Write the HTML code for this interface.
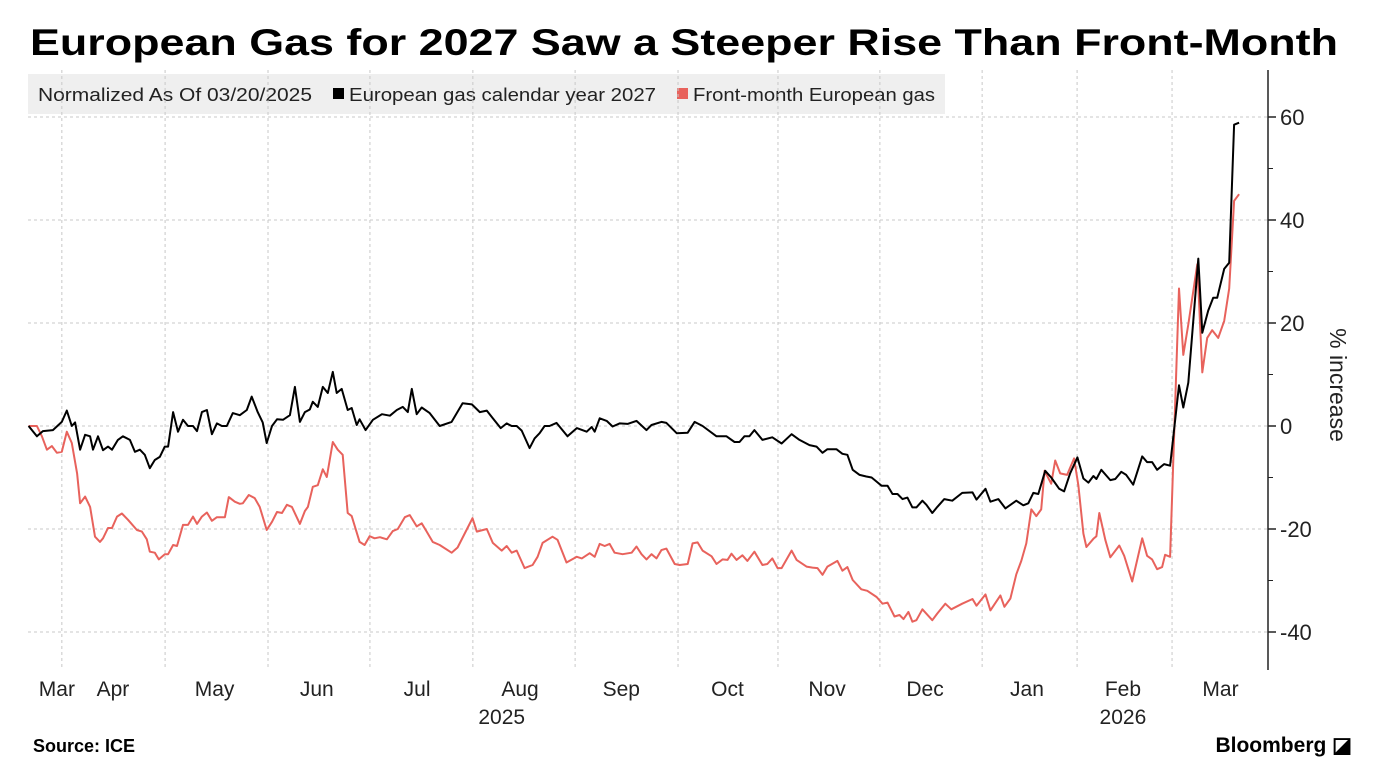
<!DOCTYPE html>
<html><head><meta charset="utf-8"><style>
body{margin:0;background:#fff;width:1382px;height:766px;overflow:hidden;font-family:"Liberation Sans",sans-serif;}
</style></head><body>
<svg id="chart" width="1382" height="766" xmlns="http://www.w3.org/2000/svg" font-family="Liberation Sans, sans-serif">
<text x="30" y="55" font-size="37" font-weight="bold" fill="#000" textLength="1308" lengthAdjust="spacingAndGlyphs">European Gas for 2027 Saw a Steeper Rise Than Front-Month</text>
<g>
<rect x="28" y="74" width="917" height="40" fill="#efefef"/>
<text x="38" y="101" font-size="18" fill="#222" textLength="274" lengthAdjust="spacingAndGlyphs">Normalized As Of 03/20/2025</text>
<rect x="333" y="88" width="11" height="11" fill="#000"/>
<text x="349" y="101" font-size="18" fill="#222" textLength="307" lengthAdjust="spacingAndGlyphs">European gas calendar year 2027</text>
<rect x="677" y="88" width="11" height="11" fill="#e8625c"/>
<text x="693" y="101" font-size="18" fill="#222" textLength="242" lengthAdjust="spacingAndGlyphs">Front-month European gas</text>
</g>
<g id="grid"></g>
<g id="series"></g>
<g id="axes"></g>
<text transform="translate(1330,385) rotate(90)" text-anchor="middle" font-size="23" fill="#222">% increase</text>
<text x="33" y="752" font-size="18" font-weight="bold" fill="#000">Source: ICE</text>
<text x="1352" y="752" text-anchor="end" font-size="21" font-weight="bold" fill="#000">Bloomberg ◪</text>
</svg>
<script>
const monthTickDays=[12,43.1,74.1,104.8,135.8,166.6,197.6,227.7,258.4,289.2,317.8,346.4];
const monthLabels=["Mar","Apr","May","Jun","Jul","Aug","Sep","Oct","Nov","Dec","Jan","Feb","Mar"];
const monthLabelDays=[10.5,27.4,58,88.8,119,150,180.5,212.5,242.5,272,302.7,331.6,361];
const yearLabels=["2025","2026"];
const yearLabelDays=[144.5,331.6];
const yTicks=[60,40,20,0,-20,-40];
const yMinorTicks=[50,30,10,-10,-30];
const cal27Days=[2,4.5,6.3,9.3,12,13.5,15,16,17.5,19,20.5,21.4,22.9,24.4,25.9,27.1,28.9,30.4,32.5,34,35.5,37,38.5,40,41.5,43,44,45.5,47,48.5,50,51.5,52.7,54.2,55.7,57.2,58.7,60.2,61.7,63.5,65.6,67.7,69.2,71,72.5,73.7,75.3,76.8,78.6,80.7,82.2,83.7,85.2,86.7,87.6,89.1,90.6,92.1,93.6,94.8,96.3,98.1,99.3,100.8,101.7,103.5,105.7,108.4,110.8,112.9,114.7,116.2,117.4,118.9,120.4,122.8,125.8,129.4,132.7,135.5,137.9,140,141.8,144.2,146,147.5,149,150.5,152.9,154.4,155.9,157.4,158.9,161,164.3,167.1,170.1,171.6,172.5,174,176.1,177.9,180,182.4,185.1,188.1,189.6,192.6,194.1,197.2,200.5,202.6,205,209.2,212.2,214.6,216.1,217.6,219.1,220.6,223,226,228.8,231.8,234.2,237.2,239.3,241.1,242.6,245.3,247.1,248.6,250.2,252.3,254.3,255.9,257.4,258.9,260.7,262.2,263.7,265.2,266.7,268.2,269.4,271.2,272.4,274.2,275.7,277.8,280.2,283.2,286.3,287.5,290.2,291.7,294.1,296.2,299.5,301.6,303.1,304.6,306.1,308.2,310,312.4,313.9,315.7,317.9,319.7,321.2,322.7,323.6,325.1,327.8,329.3,331.1,332.6,334.7,337.4,338.9,340.4,341.9,344,345.8,348.5,349.8,351.3,354.3,355.5,357.3,358.8,360,362.1,363.6,365.1,366.6];
const cal27Values=[0,-2,-1,-0.8,0.8,3,0,0.7,-4.6,-1.7,-2,-4.6,-2,-4.7,-4,-4.6,-2.7,-2,-2.7,-5,-4.6,-5.6,-8.2,-6.6,-6,-4,-4,2.7,-1.1,1.2,0,0,-1,2.7,3.1,-1.6,0.5,0,0,2.5,2.1,3.1,5.7,2.7,0.7,-3.3,0,1.3,1.2,2.1,7.6,0.8,2.7,3.2,4.7,3.7,7.6,6.4,10.5,6.4,7.2,3.1,3.5,0.2,1.3,-0.8,1.2,2.3,2,3.1,3.7,2.7,7.2,2.3,3.6,2.5,0,0.8,4.4,4.2,2.7,3,1.5,-0.4,0.5,0,0,-0.9,-4.3,-2.4,-1.4,0,0,0.6,-2,-0.4,-1.1,-0.2,-1.1,1.5,1,-0.1,0.5,0.4,1,-0.8,0.2,0.8,0.6,-1.4,-1.3,0.8,0,-2,-2,-3.1,-3.1,-2,-2,-0.8,-2.7,-2.2,-3.4,-1.6,-2.7,-3.7,-4,-5.2,-4.5,-4.5,-5.4,-5.6,-8.5,-9.5,-9.8,-10,-10.8,-11.6,-11.6,-13.2,-13.2,-14.2,-13.9,-15.8,-15.8,-14.5,-15.3,-16.9,-15.7,-14.2,-14.5,-13,-12.9,-14.3,-12.2,-14.7,-14.2,-16,-14.5,-15.4,-15,-13,-13.2,-8.7,-10,-12.2,-12.7,-9.2,-6.1,-10.2,-11,-9.7,-10.3,-8.5,-10.5,-10.3,-8.9,-9.5,-11.4,-5.9,-7,-7,-8.5,-7.4,-7.7,7.9,3.6,8.4,32.5,18.1,22.4,24.9,24.9,30.5,31.7,58.5,58.9];
const frontDays=[2,4.5,6,7.5,9,10.5,12,13.5,15,16.6,17.5,19,20.5,22,23.5,24.4,25.9,27.1,28.6,30.1,31.9,34.6,36.1,37.6,38.5,40,41.2,43,44,45.5,46.7,48.5,50,51.5,52.7,54.2,55.7,57.2,58.7,61.1,62.3,64.1,65.6,66.5,68.3,70.1,71.6,73.7,75.3,76.8,78.3,79.8,81.3,83.7,85.2,86.1,87.6,89.1,90.6,91.8,93.6,95.1,96.6,98.1,99.3,101.7,103.2,104.7,106.2,107.8,109.9,111.7,113.2,115.3,116.8,118.9,120.4,121.9,123.7,125.8,129.4,131.2,133.9,135.7,137,140,141.8,144.5,146,147.5,149,151.4,153.8,155.3,156.8,159.8,161.3,164,167.1,168.6,171,172.5,174,175.5,177,178.5,180.9,183.6,185.1,186.6,188.1,189.6,191.1,192.6,194.1,196.6,198.1,200.5,202,203.5,205,207.7,209.2,211,212.5,213.7,215.2,217,218.5,220.6,223,224.5,226,227.6,228.8,231.8,233.3,236.3,238.1,239.6,241.1,242.6,245.6,247.1,248.6,250.2,252.8,254.6,257.4,259.2,260.7,262.8,264.3,265.5,267,268.2,269.4,271.2,274.2,275.7,278.1,279.9,283.2,286.3,287.5,290.2,291.7,294.7,295.9,297.7,299.5,301,302.5,304,305.5,307,308,310,311.2,312.7,314.8,316.9,318.2,319.7,320.6,322.7,323.6,324.5,326.3,327.8,330.5,332,334.4,337.4,338.9,340.4,341.9,343.4,344.3,345.8,348.5,349.8,351.3,354,355.5,357,358.5,360.3,362.1,363.6,365.1,366.6];
const frontValues=[0,0,-2,-4.6,-3.9,-5.2,-5,-1.1,-3.3,-9.2,-15,-13.7,-15.7,-21.5,-22.5,-21.8,-19.8,-19.8,-17.6,-17,-18.2,-20.2,-20.5,-22,-24.4,-24.6,-25.9,-24.9,-24.9,-23.1,-23.3,-19.2,-19.2,-17.6,-19,-17.6,-16.8,-18.4,-17.7,-17.7,-13.8,-14.7,-15.1,-15,-13.4,-14,-15.7,-20.2,-18.6,-16.7,-16.9,-15.3,-15.7,-19,-16.5,-15.7,-11.8,-11.5,-8.4,-9.9,-3.1,-4.6,-5.6,-16.9,-17.5,-22.5,-23.1,-21.4,-21.8,-21.6,-22,-20.4,-20,-17.7,-17.3,-19.5,-18.9,-20.5,-22.5,-23.1,-24.6,-23.6,-20.2,-17.9,-20.5,-20,-22.7,-24.2,-23.3,-24.6,-24.2,-27.6,-27,-25.4,-22.7,-21.5,-22.1,-26.5,-25.4,-25.7,-24.7,-25.4,-22.9,-23.3,-22.9,-24.6,-24.9,-24.6,-23.4,-24.9,-25.9,-24.9,-25.7,-24.1,-23.8,-26.8,-27,-26.8,-22.8,-22.6,-24.2,-25.3,-26.8,-25.9,-26,-24.8,-26,-25.1,-26.2,-24.4,-27,-26.8,-25.7,-27.6,-27.6,-24.2,-26,-27.3,-27.5,-27.6,-28.9,-27.3,-26.2,-28.1,-27.4,-29.9,-31.7,-32,-33.2,-34.5,-34.3,-37,-36.7,-37.5,-36.1,-38,-37.7,-35.6,-37.7,-36.4,-34.5,-35.6,-34.5,-33.6,-34.9,-32.7,-35.8,-32.9,-35.1,-33.5,-28.8,-26.2,-22.8,-16.2,-17.5,-16.2,-8.7,-11.2,-6.7,-9.2,-9.5,-6.3,-11.6,-20.9,-23.5,-21.9,-21.4,-16.9,-22.1,-25.5,-23.2,-25.2,-30.2,-21.8,-25.2,-25.9,-27.8,-27.4,-25,-25.4,26.7,13.8,19.7,31.4,10.4,17.1,18.6,17.1,20.4,26.7,43.7,45];

const NS="http://www.w3.org/2000/svg";
const X0=22,PX_PER_DAY=3.32,Y_ZERO=426,PX_PER_UNIT=5.15;
const PLOT_L=28,PLOT_R=1268,PLOT_T=70,PLOT_B=670;
function xScale(d){return X0+d*PX_PER_DAY;}
function yScale(v){return Y_ZERO-v*PX_PER_UNIT;}
function mk(tag,attrs,parent){const e=document.createElementNS(NS,tag);for(const k in attrs)e.setAttribute(k,attrs[k]);parent.appendChild(e);return e;}
const grid=document.getElementById('grid'),axes=document.getElementById('axes'),series=document.getElementById('series');
yTicks.forEach(v=>{
  const l=mk('line',{x1:PLOT_L,x2:PLOT_R,y1:yScale(v),y2:yScale(v),stroke:'#c8c8c8','stroke-width':1,'stroke-dasharray':'3,3'},grid);
  
  
  const t=mk('line',{x1:PLOT_R,x2:PLOT_R+8,y1:yScale(v),y2:yScale(v),stroke:'#222','stroke-width':1.5},axes);
  
  
  const tx=mk('text',{x:PLOT_R+12,y:yScale(v)+8,'font-size':22,fill:'#222'},axes);
  tx.textContent=v<0?'-'+Math.abs(v):String(v);
  
  
});
yMinorTicks.forEach(v=>{
  const t=mk('line',{x1:PLOT_R,x2:PLOT_R+5,y1:yScale(v),y2:yScale(v),stroke:'#222','stroke-width':1},axes);
  
  
});
monthTickDays.forEach(d=>{
  const l=mk('line',{x1:xScale(d),x2:xScale(d),y1:PLOT_T,y2:PLOT_B,stroke:'#c8c8c8','stroke-width':1,'stroke-dasharray':'3,3'},grid);
  
  
});
monthLabels.forEach((m,i)=>{
  const t=mk('text',{x:xScale(monthLabelDays[i]),y:696,'font-size':21,fill:'#222','text-anchor':'middle'},axes);
  t.textContent=m;
  
  
});
yearLabels.forEach((m,i)=>{
  const t=mk('text',{x:xScale(yearLabelDays[i]),y:724,'font-size':21,fill:'#222','text-anchor':'middle'},axes);
  t.textContent=m;
  
  
});
const ax=mk('line',{x1:PLOT_R,x2:PLOT_R,y1:PLOT_T,y2:PLOT_B,stroke:'#222','stroke-width':1.5},axes);


function drawLine(days,vals,color,name){
  const pts=days.map((d,i)=>xScale(d).toFixed(1)+','+yScale(vals[i]).toFixed(1)).join(' ');
  const p=mk('polyline',{points:pts,fill:'none',stroke:color,'stroke-width':2,'stroke-linejoin':'round'},series);
  
  
}
drawLine(frontDays,frontValues,'#e8625c','front-month-line');
drawLine(cal27Days,cal27Values,'#000','calendar-2027-line');
</script>
</body></html>
